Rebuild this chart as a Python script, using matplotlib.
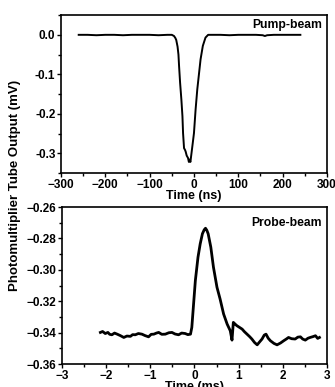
import matplotlib.pyplot as plt
from matplotlib import font_manager as fm
from matplotlib.ticker import MultipleLocator

# use the regular (not narrow) Liberation Sans bold face
bold_file = None
for f in fm.findSystemFonts():
    if f.endswith('LiberationSans-Bold.ttf'):
        bold_file = f
if bold_file:
    fm.fontManager.addfont(bold_file)
    fam = fm.FontProperties(fname=bold_file).get_name()
else:
    fam = 'DejaVu Sans'
plt.rcParams['font.family'] = [fam, 'DejaVu Sans']
plt.rcParams['font.weight'] = 'bold'

# pump-beam trace (ns, mV)
pump_t = [-260, -240, -220, -200, -180, -160, -140, -120, -100, -80, -60, -50,
          -45, -42, -40, -37, -35, -33.6, -31.3, -28.4, -26, -24.6, -22.4,
          -20, -18.7, -16.4, -13.4, -11.5, -9.7, -8, -6.7, -3.7, 0, 3.7, 7.5,
          11.2, 14.9, 20, 26, 32, 40, 60, 80, 100, 120, 140, 155, 160, 165,
          180, 200, 220, 240]
pump_v = [0.0, 0.0, -0.001, 0.0, 0.0, -0.001, 0.0, 0.0, 0.0, -0.001, 0.0, 0.0,
          -0.003, -0.008, -0.013, -0.03, -0.05, -0.079, -0.121, -0.164, -0.206,
          -0.249, -0.287, -0.292, -0.296, -0.306, -0.312, -0.322, -0.316,
          -0.322, -0.31, -0.283, -0.249, -0.189, -0.138, -0.1, -0.062, -0.028,
          -0.007, 0.0, 0.0, 0.0, -0.001, 0.0, 0.0, 0.0, -0.001, -0.003, -0.001,
          0.0, 0.0, 0.0, 0.0]

# probe-beam trace (ms, mV)
probe_t = [-2.13, -2.08, -2.02, -1.96, -1.92, -1.87, -1.81, -1.75, -1.68, -1.6,
           -1.53, -1.45, -1.4, -1.34, -1.27, -1.19, -1.12, -1.04, -0.98, -0.92,
           -0.86, -0.81, -0.74, -0.66, -0.58, -0.51, -0.44, -0.36, -0.29,
           -0.21, -0.15, -0.09, -0.06, -0.02, 0.02, 0.08, 0.13, 0.18, 0.22,
           0.25, 0.28, 0.31, 0.37, 0.43, 0.51, 0.58, 0.66, 0.74, 0.81, 0.85,
           0.88, 0.92, 0.96, 1.02, 1.08, 1.13, 1.19, 1.25, 1.3, 1.36, 1.42,
           1.47, 1.53, 1.58, 1.62, 1.67, 1.72, 1.8, 1.87, 1.95, 2.02, 2.08,
           2.13, 2.2, 2.28, 2.34, 2.4, 2.45, 2.51, 2.57, 2.62, 2.68, 2.74,
           2.79, 2.83]
probe_v = [-0.3398, -0.3392, -0.3405, -0.3398, -0.3410, -0.3413, -0.3402,
           -0.3409, -0.3418, -0.3430, -0.3421, -0.3423, -0.3412, -0.3413,
           -0.3405, -0.3409, -0.3418, -0.3426, -0.3410, -0.3409, -0.3402,
           -0.3398, -0.3410, -0.3409, -0.3400, -0.3398, -0.3408, -0.3413,
           -0.3402, -0.3405, -0.3412, -0.3409, -0.3366, -0.3217, -0.3068,
           -0.2919, -0.2834, -0.2770, -0.2745, -0.2735, -0.2748, -0.2770,
           -0.2855, -0.2983, -0.3111, -0.3185, -0.3281, -0.3345, -0.3387,
           -0.3447, -0.3334, -0.3345, -0.3355, -0.3366, -0.3377, -0.3393,
           -0.3409, -0.3425, -0.3440, -0.3462, -0.3477, -0.3460, -0.3440,
           -0.3415, -0.3409, -0.3435, -0.3451, -0.3468, -0.3477, -0.3465,
           -0.3451, -0.3440, -0.3430, -0.3438, -0.3440, -0.3428, -0.3426,
           -0.3440, -0.3447, -0.3435, -0.3430, -0.3425, -0.3419, -0.3436,
           -0.3430]

fig = plt.figure(figsize=(3.35, 3.87), dpi=100)
ax1 = fig.add_axes([0.182, 0.553, 0.794, 0.408])
ax2 = fig.add_axes([0.185, 0.059, 0.791, 0.406])

ax1.plot(pump_t, pump_v, color='black', lw=1.4)
ax1.set_xlim(-300, 300)
ax1.set_ylim(-0.35, 0.05)
ax1.xaxis.set_major_locator(MultipleLocator(100))
ax1.xaxis.set_minor_locator(MultipleLocator(50))
ax1.yaxis.set_minor_locator(MultipleLocator(0.05))
ax1.set_yticks([-0.3, -0.2, -0.1, 0.0])
ax1.set_yticklabels(['-0.3', '-0.2', '-0.1', '0.0'])
ax1.set_xlabel('Time (ns)', fontsize=9, fontweight='bold', labelpad=-0.5)
ax1.text(0.98, 0.94, 'Pump-beam', transform=ax1.transAxes, ha='right',
         va='center', fontsize=8.7, fontweight='bold')

ax2.plot(probe_t, probe_v, color='black', lw=2.0)
ax2.set_xlim(-3, 3)
ax2.set_ylim(-0.36, -0.26)
ax2.xaxis.set_major_locator(MultipleLocator(1))
ax2.xaxis.set_minor_locator(MultipleLocator(0.5))
ax2.yaxis.set_major_locator(MultipleLocator(0.02))
ax2.yaxis.set_minor_locator(MultipleLocator(0.01))
ax2.set_xlabel('Time (ms)', fontsize=9, fontweight='bold', labelpad=-0.5)
ax2.text(0.98, 0.90, 'Probe-beam', transform=ax2.transAxes, ha='right',
         va='center', fontsize=8.7, fontweight='bold')

for ax in (ax1, ax2):
    ax.tick_params(which='major', direction='out', length=3, width=1,
                   labelsize=8.5, pad=1)
    ax.tick_params(which='minor', direction='out', length=2, width=1)
    for lab in ax.get_xticklabels() + ax.get_yticklabels():
        lab.set_fontweight('bold')
    for sp in ax.spines.values():
        sp.set_linewidth(1.2)

fig.text(0.045, 0.52, 'Photomultiplier Tube Output (mV)', rotation=90,
         ha='center', va='center', fontsize=9.5, fontweight='bold')

fig.savefig('out.png', dpi=100)
